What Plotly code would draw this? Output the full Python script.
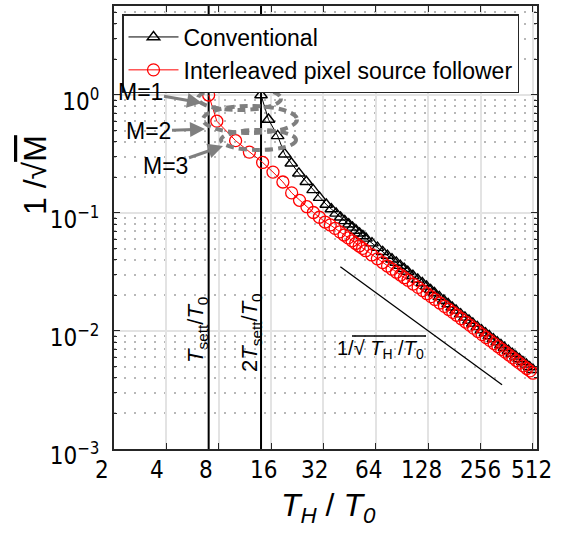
import math
import plotly.graph_objects as go

# ---------------- data ----------------
conv_x = [14, 15.45, 17.45, 19.15, 20.9, 23.1, 25.5, 27.9, 30.4, 33.2, 35.5, 37.8, 40.1, 42.4, 44.7, 47,
          49.3, 51.6, 53.9, 56.2, 60.8, 65.4, 70, 74.6, 79.2, 83.8, 88.4, 93, 97.6, 104.5, 111.4, 118.3,
          125.2, 132.1, 139, 148.2, 157.4, 166.6, 175.8, 185, 196.5, 208, 219.5, 231, 245, 259, 273, 287,
          303, 319, 335, 351, 370, 389, 408, 427, 448, 469, 490, 512]
conv_y = [1, 0.62, 0.45, 0.315, 0.264, 0.217, 0.184, 0.157, 0.135, 0.118, 0.108, 0.0992, 0.0919, 0.0858,
          0.0803, 0.0755, 0.0711, 0.0673, 0.0639, 0.0609, 0.0555, 0.0509, 0.0469, 0.0436, 0.0406, 0.0381,
          0.0358, 0.0337, 0.0319, 0.0294, 0.0273, 0.0255, 0.0239, 0.02235, 0.0210, 0.01948, 0.01813,
          0.01693, 0.01587, 0.01494, 0.01391, 0.01305, 0.01228, 0.01159, 0.01084, 0.01019, 0.0096,
          0.00907, 0.00853, 0.00804, 0.00761, 0.00722, 0.00681, 0.00644, 0.0061, 0.00579, 0.00548,
          0.00521, 0.00495, 0.0047]

intl_x = [7, 7.8, 10, 12, 14.3, 16.4, 18.7, 21, 23.3, 25.7, 28, 30.3, 32.7, 35, 37.3, 39.7, 42, 44.3, 46.7,
          49, 51.3, 53.7, 56, 60.7, 65.3, 70, 74.7, 79.3, 84, 88.7, 93.3, 98, 105, 112, 119, 126, 133, 140,
          149.3, 158.7, 168, 177.3, 186.7, 198.3, 210, 221.7, 233.3, 247.3, 261.3, 275.3, 289.3, 305.7,
          322, 338.3, 354.7, 373.3, 392, 410.7, 429.3, 450.3, 471.3, 492.3, 512]
intl_y = [1, 0.60, 0.41, 0.328, 0.268, 0.222, 0.183, 0.148, 0.128, 0.113, 0.101, 0.092, 0.0838, 0.0792,
          0.074, 0.0692, 0.0651, 0.0615, 0.0581, 0.0552, 0.0525, 0.0501, 0.0479, 0.0441, 0.0409, 0.0380,
          0.0355, 0.0334, 0.0315, 0.0298, 0.0283, 0.0269, 0.0250, 0.0234, 0.0220, 0.0207, 0.01955, 0.0185,
          0.01727, 0.01617, 0.01522, 0.01437, 0.01359, 0.0127, 0.01191, 0.01121, 0.01058, 0.00991,
          0.00932, 0.00879, 0.00832, 0.00782, 0.00738, 0.00698, 0.00662, 0.00625, 0.00592, 0.00562,
          0.00534, 0.00506, 0.00481, 0.00459, 0.00439]

ref_x = [40, 340]
ref_y = [0.035, 0.0035]

t_sett = 7            # T_sett / T0
t_sett2 = 14          # 2 T_sett / T0
vline_y = [1e-3, 10]

x_tick_vals = [2, 4, 8, 16, 32, 64, 128, 256, 512]
x_tick_text = ["2", "4", "8", "16", "32", "64", "128", "256", "512"]
y_tick_vals = [1e-3, 1e-2, 1e-1, 1]
y_tick_text = ["10<sup>\u22123</sup>", "10<sup>\u22122</sup>", "10<sup>\u22121</sup>", "10<sup>0</sup>"]
y_minor_vals = [m * 10.0 ** e for e in (-3, -2, -1, 0) for m in range(2, 10)]

# ---------------- figure ----------------
W, H = 562, 535
ML, MR, MT, MB = 114, 25, 6, 86
PW, PH = W - ML - MR, H - MT - MB

# pixel centres of the x tick labels as drawn in the original
x_label_px = [102, 156.5, 206, 263, 314.5, 368, 421.7, 480, 531.7]


def px(xp):
    return (xp - ML) / PW


def py(yp):
    return (H - MB - yp) / PH


fig = go.Figure()
for xv in (t_sett, t_sett2):
    fig.add_trace(go.Scatter(x=[xv, xv], y=vline_y, mode="lines", showlegend=False,
                             line=dict(color="black", width=2), hoverinfo="skip"))

fig.add_trace(go.Scatter(x=ref_x, y=ref_y, mode="lines", showlegend=False,
                         line=dict(color="black", width=1.3), hoverinfo="skip"))

fig.add_trace(go.Scatter(x=conv_x, y=conv_y, mode="lines+markers", name="Conventional",
                         line=dict(color="black", width=1),
                         marker=dict(symbol="triangle-up-open", size=11, color="black",
                                     line=dict(width=1.4, color="black"))))
fig.add_trace(go.Scatter(x=intl_x, y=intl_y, mode="lines+markers",
                         name="Interleaved pixel source follower",
                         line=dict(color="red", width=1),
                         marker=dict(symbol="circle-open", size=12, color="red",
                                     line=dict(width=1.3, color="red"))))

axis_col = "#262626"
narrow = "Liberation Sans Narrow, DejaVu Sans Condensed, Roboto Condensed, Liberation Sans"
fig.update_layout(
    width=W, height=H, margin=dict(l=ML, r=MR, t=MT, b=MB, autoexpand=False),
    paper_bgcolor="white", plot_bgcolor="white",
    font=dict(family="Liberation Sans, Arial", color="black"),
    xaxis=dict(type="log", range=[math.log10(2), math.log10(540)],
               tickvals=x_tick_vals, ticktext=x_tick_text, showticklabels=False,
               ticks="inside", ticklen=6, tickwidth=1.3, tickcolor=axis_col,
               showline=True, linecolor=axis_col, linewidth=1.6, mirror="ticks",
               showgrid=True, gridcolor="#e3e3e3", gridwidth=1.6, zeroline=False),
    yaxis=dict(type="log", range=[-3, 0.754],
               tickvals=y_tick_vals, ticktext=y_tick_text,
               tickfont=dict(family=narrow, size=24),
               ticklabelstandoff=8, ticklabelshift=7,
               ticks="inside", ticklen=6, tickwidth=1.3, tickcolor=axis_col,
               showline=True, linecolor=axis_col, linewidth=1.6, mirror="ticks",
               showgrid=True, gridcolor="#e3e3e3", gridwidth=1.6, zeroline=False,
               minor=dict(tickvals=y_minor_vals, ticks="inside", ticklen=3, tickcolor=axis_col,
                          showgrid=True, griddash="2px,8px", gridcolor="#b8b8b8", gridwidth=1.5)),
    legend=dict(x=px(122), y=py(14), xanchor="left", yanchor="top",
                bgcolor="white", bordercolor=axis_col, borderwidth=1.5,
                font=dict(family="Liberation Sans, Arial", size=23, color="black"),
                itemwidth=50, tracegroupgap=0),
    showlegend=True,
)

ann = []
for xp, txt in zip(x_label_px, x_tick_text):
    ann.append(dict(x=px(xp), y=py(470), xref="paper", yref="paper", text=txt, showarrow=False,
                    xanchor="center", yanchor="middle", font=dict(family=narrow, size=24)))

ann.append(dict(x=px(328), y=py(507), xref="paper", yref="paper", showarrow=False,
                text="<i>T</i><sub><i>H</i></sub> / <i>T</i><sub><i>0</i></sub>",
                font=dict(size=32), xanchor="center", yanchor="middle"))
ann.append(dict(x=px(35), y=py(175), xref="paper", yref="paper", showarrow=False, textangle=-90,
                text="1 /\u221a<span style='text-decoration:overline'>M</span>",
                font=dict(size=32), xanchor="center", yanchor="middle"))
ann.append(dict(x=px(197), y=py(330), xref="paper", yref="paper", showarrow=False, textangle=-90,
                xanchor="center", yanchor="middle",
                text="<i>T</i><sub>sett</sub>/<i>T</i><sub>0</sub>", font=dict(size=22)))
ann.append(dict(x=px(251), y=py(333), xref="paper", yref="paper", showarrow=False, textangle=-90,
                xanchor="center", yanchor="middle",
                text="2<i>T</i><sub>sett</sub>/<i>T</i><sub>0</sub>", font=dict(size=22)))
ann.append(dict(x=px(380), y=py(349), xref="paper", yref="paper", showarrow=False,
                xanchor="center", yanchor="middle",
                text="1/\u221a <i>T</i><sub>H</sub> /<i>T</i><sub>0</sub>",
                font=dict(size=20)))

arrow_col = "#7f7f7f"
for label, head, textc in (("M=1", (202, 103), (140, 92)),
                           ("M=2", (205, 129), (148, 131)),
                           ("M=3", (223, 146), (165, 166))):
    ann.append(dict(x=px(head[0]), y=py(head[1]), xref="paper", yref="paper", text=label,
                    showarrow=True, arrowhead=2, arrowsize=1, arrowwidth=3, arrowcolor=arrow_col,
                    ax=textc[0] - head[0], ay=textc[1] - head[1],
                    font=dict(size=23, color="black")))
fig.update_layout(annotations=ann)

shapes = []
for (x0, x1, y0, y1) in ((198, 281, 87, 110), (203, 297, 106, 133), (221, 296, 130, 150)):
    shapes.append(dict(type="circle", xref="paper", yref="paper",
                       x0=px(x0), x1=px(x1), y0=py(y1), y1=py(y0),
                       line=dict(color=arrow_col, width=4, dash="8px,5px")))
# overline of the square root in the 1/sqrt(T_H/T_0) label
shapes.append(dict(type="line", xref="paper", yref="paper", x0=px(352), x1=px(426),
                   y0=py(336), y1=py(336), line=dict(color="black", width=1.3)))
fig.update_layout(shapes=shapes)

fig.write_html("out.html", config={"displayModeBar": False},
               post_script="document.body.style.margin='0px';")
